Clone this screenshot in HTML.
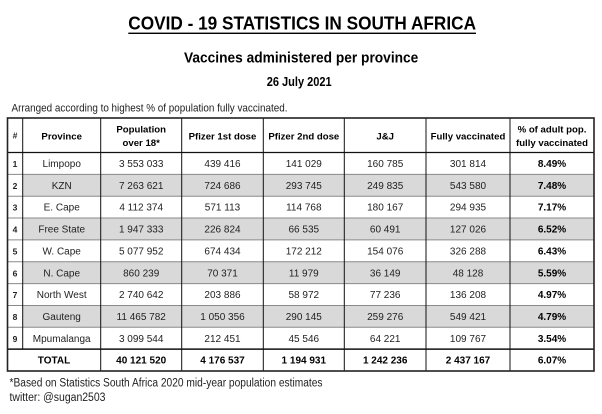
<!DOCTYPE html>
<html><head><meta charset="utf-8"><style>
html,body{margin:0;padding:0;background:#fff;}
svg{display:block;}
text{font-family:"Liberation Sans",Arial,sans-serif;}
.h{font-weight:bold;font-size:9.6px;fill:#000;text-anchor:middle;}
.d{font-size:10px;fill:#222;text-anchor:middle;}
.p{font-size:10px;fill:#000;font-weight:bold;text-anchor:middle;}
.n{font-size:8.5px;fill:#222;font-weight:bold;text-anchor:middle;}
</style></head><body>
<svg width="602" height="414" viewBox="0 0 602 414" xmlns="http://www.w3.org/2000/svg">
<rect x="0" y="0" width="602" height="414" fill="#fff"/>
<text x="128.3" y="29.5" font-size="18" font-weight="bold" textLength="347.7" lengthAdjust="spacingAndGlyphs" fill="#000">COVID - 19 STATISTICS IN SOUTH AFRICA</text>
<rect x="128.3" y="32.6" width="347.7" height="1.4" fill="#000"/>
<text x="184" y="62.3" font-size="14.5" font-weight="bold" textLength="234.3" lengthAdjust="spacingAndGlyphs" fill="#000">Vaccines administered per province</text>
<text x="266.7" y="86.2" font-size="12.5" font-weight="bold" textLength="65" lengthAdjust="spacingAndGlyphs" fill="#000">26 July 2021</text>
<text x="11.5" y="111.3" font-size="11" textLength="276" lengthAdjust="spacingAndGlyphs" fill="#222">Arranged according to highest % of population fully vaccinated.</text>

<!-- shading -->
<g fill="#d9d9d9">
<rect x="22.7" y="174.35" width="571.3" height="21.85"/>
<rect x="22.7" y="218.05" width="571.3" height="21.85"/>
<rect x="22.7" y="261.75" width="571.3" height="21.85"/>
<rect x="22.7" y="305.45" width="571.3" height="21.85"/>
</g>
<!-- row lines -->
<g stroke="#8a8a8a" stroke-width="1">
<line x1="7.5" x2="594" y1="174.35" y2="174.35"/>
<line x1="7.5" x2="594" y1="196.2" y2="196.2"/>
<line x1="7.5" x2="594" y1="218.05" y2="218.05"/>
<line x1="7.5" x2="594" y1="239.9" y2="239.9"/>
<line x1="7.5" x2="594" y1="261.75" y2="261.75"/>
<line x1="7.5" x2="594" y1="283.6" y2="283.6"/>
<line x1="7.5" x2="594" y1="305.45" y2="305.45"/>
<line x1="7.5" x2="594" y1="327.3" y2="327.3"/>
</g>
<line x1="7.5" x2="594" y1="152.5" y2="152.5" stroke="#111" stroke-width="1.2"/>
<line x1="7.5" x2="594" y1="349.15" y2="349.15" stroke="#111" stroke-width="1.5"/>
<!-- vertical lines -->
<g stroke="#111" stroke-width="1">
<line x1="22.7" x2="22.7" y1="118" y2="349.15"/>
<line x1="100.7" x2="100.7" y1="118" y2="371"/>
<line x1="181.7" x2="181.7" y1="118" y2="371"/>
<line x1="263.3" x2="263.3" y1="118" y2="371"/>
<line x1="344.3" x2="344.3" y1="118" y2="371"/>
<line x1="426" x2="426" y1="118" y2="371"/>
<line x1="510" x2="510" y1="118" y2="371"/>
</g>
<rect x="7.5" y="118" width="586.5" height="253" fill="none" stroke="#222" stroke-width="1.6"/>

<!-- header -->
<text class="n" x="15" y="138.5">#</text>
<text class="h" x="61.7" y="139.3">Province</text>
<text class="h" x="141.2" y="132.7">Population</text>
<text class="h" x="141.2" y="146">over 18*</text>
<text class="h" x="222.5" y="139.3">Pfizer 1st dose</text>
<text class="h" x="303.8" y="139.3">Pfizer 2nd dose</text>
<text class="h" x="385.2" y="139.3">J&amp;J</text>
<text class="h" x="468" y="139.3">Fully vaccinated</text>
<text class="h" x="552" y="132.7">% of adult pop.</text>
<text class="h" x="552" y="146">fully vaccinated</text>

<!-- rows -->
<g>
<text class="n" x="15" y="167">1</text><text class="d" x="61.7" y="167">Limpopo</text><text class="d" x="141.2" y="167">3 553 033</text><text class="d" x="222.5" y="167">439 416</text><text class="d" x="303.8" y="167">141 029</text><text class="d" x="385.2" y="167">160 785</text><text class="d" x="468" y="167">301 814</text><text class="p" x="552" y="167">8.49%</text>
<text class="n" x="15" y="188.85">2</text><text class="d" x="61.7" y="188.85">KZN</text><text class="d" x="141.2" y="188.85">7 263 621</text><text class="d" x="222.5" y="188.85">724 686</text><text class="d" x="303.8" y="188.85">293 745</text><text class="d" x="385.2" y="188.85">249 835</text><text class="d" x="468" y="188.85">543 580</text><text class="p" x="552" y="188.85">7.48%</text>
<text class="n" x="15" y="210.7">3</text><text class="d" x="61.7" y="210.7">E. Cape</text><text class="d" x="141.2" y="210.7">4 112 374</text><text class="d" x="222.5" y="210.7">571 113</text><text class="d" x="303.8" y="210.7">114 768</text><text class="d" x="385.2" y="210.7">180 167</text><text class="d" x="468" y="210.7">294 935</text><text class="p" x="552" y="210.7">7.17%</text>
<text class="n" x="15" y="232.55">4</text><text class="d" x="61.7" y="232.55">Free State</text><text class="d" x="141.2" y="232.55">1 947 333</text><text class="d" x="222.5" y="232.55">226 824</text><text class="d" x="303.8" y="232.55">66 535</text><text class="d" x="385.2" y="232.55">60 491</text><text class="d" x="468" y="232.55">127 026</text><text class="p" x="552" y="232.55">6.52%</text>
<text class="n" x="15" y="254.4">5</text><text class="d" x="61.7" y="254.4">W. Cape</text><text class="d" x="141.2" y="254.4">5 077 952</text><text class="d" x="222.5" y="254.4">674 434</text><text class="d" x="303.8" y="254.4">172 212</text><text class="d" x="385.2" y="254.4">154 076</text><text class="d" x="468" y="254.4">326 288</text><text class="p" x="552" y="254.4">6.43%</text>
<text class="n" x="15" y="276.25">6</text><text class="d" x="61.7" y="276.25">N. Cape</text><text class="d" x="141.2" y="276.25">860 239</text><text class="d" x="222.5" y="276.25">70 371</text><text class="d" x="303.8" y="276.25">11 979</text><text class="d" x="385.2" y="276.25">36 149</text><text class="d" x="468" y="276.25">48 128</text><text class="p" x="552" y="276.25">5.59%</text>
<text class="n" x="15" y="298.1">7</text><text class="d" x="61.7" y="298.1">North West</text><text class="d" x="141.2" y="298.1">2 740 642</text><text class="d" x="222.5" y="298.1">203 886</text><text class="d" x="303.8" y="298.1">58 972</text><text class="d" x="385.2" y="298.1">77 236</text><text class="d" x="468" y="298.1">136 208</text><text class="p" x="552" y="298.1">4.97%</text>
<text class="n" x="15" y="319.95">8</text><text class="d" x="61.7" y="319.95">Gauteng</text><text class="d" x="141.2" y="319.95">11 465 782</text><text class="d" x="222.5" y="319.95">1 050 356</text><text class="d" x="303.8" y="319.95">290 145</text><text class="d" x="385.2" y="319.95">259 276</text><text class="d" x="468" y="319.95">549 421</text><text class="p" x="552" y="319.95">4.79%</text>
<text class="n" x="15" y="341.8">9</text><text class="d" x="61.7" y="341.8">Mpumalanga</text><text class="d" x="141.2" y="341.8">3 099 544</text><text class="d" x="222.5" y="341.8">212 451</text><text class="d" x="303.8" y="341.8">45 546</text><text class="d" x="385.2" y="341.8">64 221</text><text class="d" x="468" y="341.8">109 767</text><text class="p" x="552" y="341.8">3.54%</text>
<text class="p" x="54" y="363.65">TOTAL</text><text class="p" x="141.2" y="363.65">40 121 520</text><text class="p" x="222.5" y="363.65">4 176 537</text><text class="p" x="303.8" y="363.65">1 194 931</text><text class="p" x="385.2" y="363.65">1 242 236</text><text class="p" x="468" y="363.65">2 437 167</text><text class="p" x="552" y="363.65">6.07%</text>
</g>

<text x="9.5" y="386.7" font-size="11.5" textLength="313" lengthAdjust="spacingAndGlyphs" fill="#222">*Based on Statistics South Africa 2020 mid-year population estimates</text>
<text x="9.5" y="401" font-size="11.5" textLength="96" lengthAdjust="spacingAndGlyphs" fill="#222">twitter: @sugan2503</text>
</svg>
</body></html>
